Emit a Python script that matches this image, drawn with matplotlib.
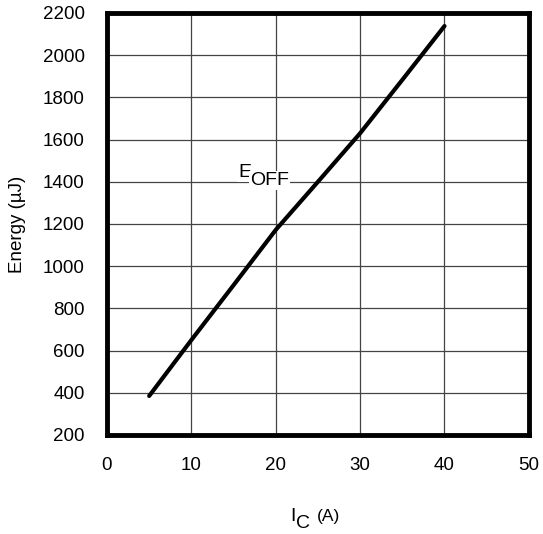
import matplotlib
matplotlib.use("Agg")
import matplotlib.pyplot as plt

plt.rcParams['font.family'] = ['Liberation Sans', 'DejaVu Sans']

# Turn-off switching energy versus collector current
ic_amps = [5, 10, 15, 20, 25, 30, 35, 40]
eoff_uj = [385, 650, 910, 1172, 1400, 1630, 1883, 2138]

x_ticks = [0, 10, 20, 30, 40, 50]
y_ticks = [200, 400, 600, 800, 1000, 1200, 1400, 1600, 1800, 2000, 2200]

fig = plt.figure(figsize=(5.43, 5.34), dpi=100)
ax = fig.add_axes([0.197, 0.1854, 0.777, 0.7903])

ax.plot(ic_amps, eoff_uj, color='black', lw=3.0, solid_capstyle='round', zorder=3)

ax.set_xlim(0, 50)
ax.set_ylim(200, 2200)
ax.set_xticks(x_ticks)
ax.set_yticks(y_ticks)
ax.grid(True, color='#444444', lw=0.9)
ax.set_axisbelow(True)
ax.tick_params(length=0, pad=16, labelsize=13.5)
for s in ax.spines.values():
    s.set_linewidth(3.5)
    s.set_zorder(4)

ax.set_ylabel('Energy (µJ)', fontsize=13.5, va='center')
ax.yaxis.set_label_coords(-0.211, 0.5)

# E_OFF curve label with white backing over the grid
ax.text(15.6, 1423, 'E', fontsize=14, ha='left', va='baseline',
        bbox=dict(facecolor='white', edgecolor='none', pad=1.0), zorder=2)
ax.text(16.95, 1385, 'OFF', fontsize=14, ha='left', va='baseline',
        bbox=dict(facecolor='white', edgecolor='none', pad=1.0), zorder=2)

# x-axis title: I with subscript C, then the unit
fig.text(290 / 543, 1 - 521 / 534, 'I', fontsize=14, ha='left', va='baseline')
fig.text(296 / 543, 1 - 528 / 534, 'C', fontsize=14, ha='left', va='baseline')
fig.text(317 / 543, 1 - 521 / 534, '(A)', fontsize=12.5, ha='left', va='baseline')

fig.savefig('out.png', dpi=100, facecolor='white')
